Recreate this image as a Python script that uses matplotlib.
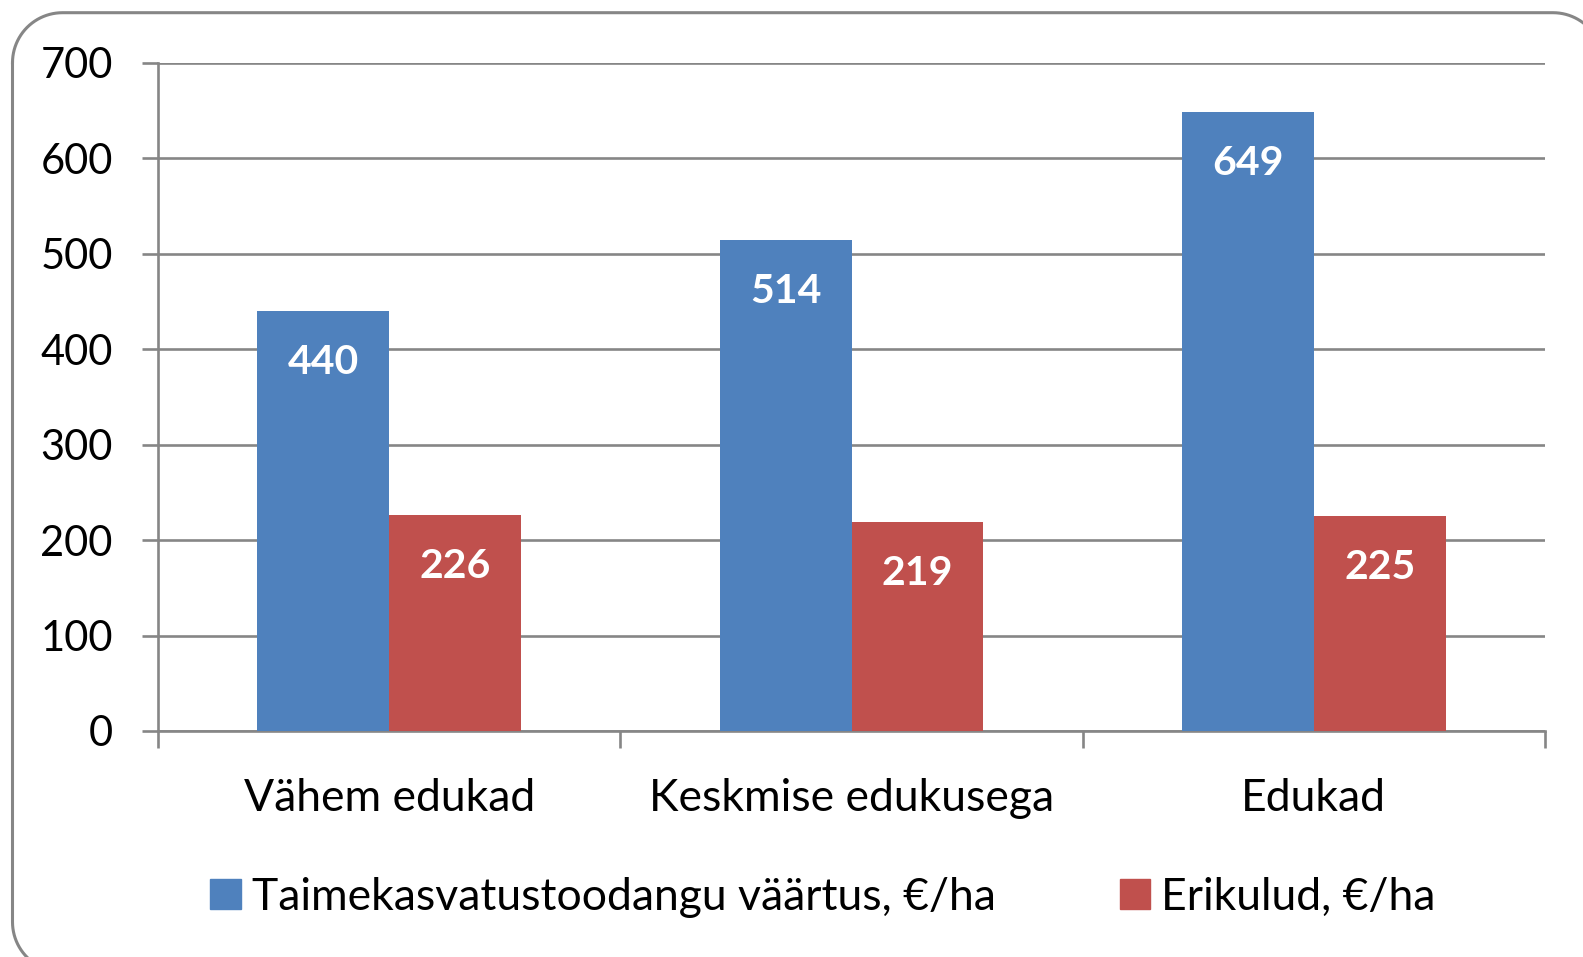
import numpy as np
import matplotlib
matplotlib.use("Agg")
from matplotlib import pyplot
from matplotlib.patches import Patch

categories = ["Vähem edukad", "Keskmise edukusega", "Edukad"]
toodang = [440, 514, 649]
erikulud = [226, 219, 225]
series_names = ["Taimekasvatustoodangu väärtus, €/ha", "Erikulud, €/ha"]
yticks = [0, 100, 200, 300, 400, 500, 600, 700]

BLUE = "#4F81BD"
RED = "#C0504D"
GRAY = "#868686"

pyplot.rcParams["font.family"] = ["Lato", "DejaVu Sans"]

W, H = 1583, 957
fig = pyplot.figure(figsize=(W / 100, H / 100), dpi=100)


def rounded_rect(x0, y0, x1, y1, r, n=25):
    # corners: top-left, top-right, bottom-right, bottom-left (y grows downward)
    pts = []
    for cx, cy, a0 in [(x0 + r, y0 + r, 180), (x1 - r, y0 + r, 270),
                       (x1 - r, y1 - r, 0), (x0 + r, y1 - r, 90)]:
        t = np.radians(np.linspace(a0, a0 + 90, n))
        pts.append(np.column_stack([cx + r * np.cos(t), cy + r * np.sin(t)]))
    pts = np.vstack(pts + [pts[0][:1]])
    return pts[:, 0], pts[:, 1]


# background axes in pixel units, for the rounded frame (runs off right/bottom edge)
bg = fig.add_axes([0, 0, 1, 1], zorder=-1)
bg.set_xlim(0, W)
bg.set_ylim(H, 0)
bg.axis("off")
fx, fy = rounded_rect(12.5, 12.7, 1603, 972, 50)
bg.plot(fx, fy, color=GRAY, lw=2.2, solid_joinstyle="round")

ax = fig.add_axes([158 / W, 1 - 731 / H, (1545 - 158) / W, (731 - 63) / H])

x = np.arange(len(categories))
bw = 0.285
b1 = ax.bar(x - bw / 2, toodang, bw, color=BLUE, zorder=3)
b2 = ax.bar(x + bw / 2, erikulud, bw, color=RED, zorder=3)

for bars, vals in [(b1, toodang), (b2, erikulud)]:
    for rect, v in zip(bars, vals):
        ax.annotate(str(v), (rect.get_x() + rect.get_width() / 2, v),
            xytext=(0, -37), textcoords="offset points", ha="center", va="center",
            color="white", fontsize=29.5, fontweight="bold", zorder=4)

ax.set_xlim(-0.5, len(categories) - 0.5)
ax.set_ylim(0, 700)
ax.set_yticks(yticks)
ax.yaxis.grid(True, color=GRAY, lw=1.9, zorder=0)
ax.set_xticks(x)
ax.set_xticklabels(categories)
ax.set_xticks(np.arange(len(categories) + 1) - 0.5, minor=True)
ax.tick_params(axis="x", which="major", length=0, pad=34, labelsize=32)
ax.tick_params(axis="x", which="minor", length=12, width=1.9, color=GRAY, direction="out")
ax.tick_params(axis="y", length=11.5, width=1.9, color=GRAY, direction="out", pad=21, labelsize=30)

for s in ["top", "right"]:
    ax.spines[s].set_visible(False)
for s in ["left", "bottom"]:
    ax.spines[s].set_color(GRAY)
    ax.spines[s].set_linewidth(1.9)

handles = [Patch(color=BLUE), Patch(color=RED)]
fig.legend(handles, series_names, loc="center", bbox_to_anchor=(823 / W, 1 - 897 / H),
    ncol=2, frameon=False, fontsize=32, handlelength=0.68, handleheight=0.68,
    handletextpad=0.25, columnspacing=2.8)

pyplot.savefig("out.png", dpi=100)
